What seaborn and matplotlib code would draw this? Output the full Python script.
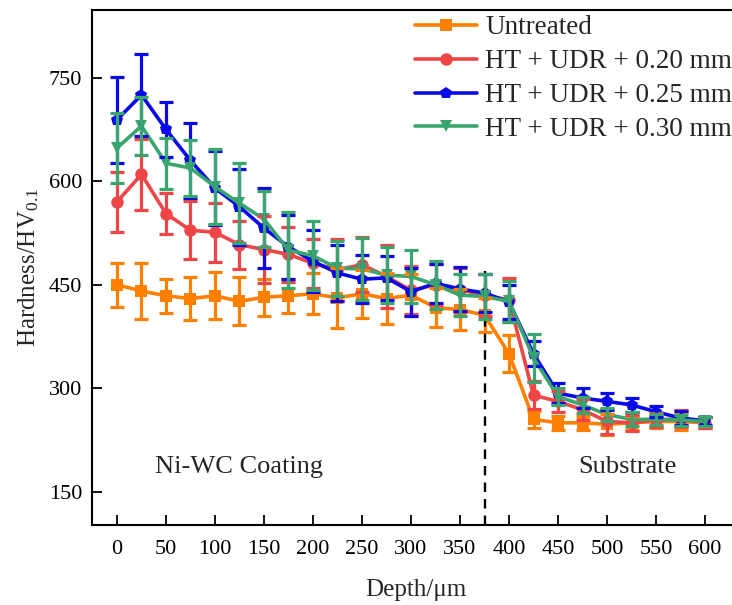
import numpy as np
import pandas as pd
import seaborn as sns
import matplotlib
matplotlib.use("Agg")
import matplotlib.pyplot as plt

depth = list(range(0, 625, 25))

untreated = [450, 441, 434, 430, 434, 426, 432, 434, 437, 431, 437, 430, 435,
             417, 414, 406, 350, 255, 250, 250, 248, 250, 252, 252, 250]
untreated_err = [32, 41, 25, 31, 34, 35, 27, 25, 30, 43, 35, 37, 30,
                 28, 30, 25, 27, 12, 10, 10, 15, 10, 10, 13, 8]

ht020 = [570, 610, 553, 529, 526, 508, 501, 494, 481, 472, 479, 462, 442,
         450, 443, 435, 428, 290, 281, 269, 252, 250, 254, 256, 250]
ht020_err = [44, 51, 30, 42, 43, 35, 48, 40, 35, 45, 40, 45, 35,
             30, 32, 30, 32, 20, 15, 15, 18, 12, 10, 12, 8]

ht025 = [689, 725, 675, 630, 590, 563, 532, 505, 484, 467, 458, 460, 440,
         452, 444, 438, 425, 350, 293, 286, 281, 276, 266, 257, 253]
ht025_err = [62, 59, 40, 55, 54, 55, 58, 46, 45, 40, 35, 32, 35,
             28, 32, 28, 25, 18, 15, 15, 12, 10, 8, 10, 6]

ht030 = [648, 680, 626, 619, 592, 568, 545, 500, 492, 474, 473, 464, 462,
         450, 435, 433, 426, 344, 288, 276, 262, 255, 255, 254, 252]
ht030_err = [51, 42, 37, 41, 54, 58, 41, 55, 50, 40, 45, 40, 38,
             35, 30, 32, 30, 35, 12, 12, 10, 10, 8, 8, 6]

labels = ["Untreated", "HT + UDR + 0.20 mm", "HT + UDR + 0.25 mm", "HT + UDR + 0.30 mm"]
colors = ["#FF8000", "#EE4646", "#0A0AE6", "#3AA66F"]
markers = ["s", "o", "p", "v"]

series = [untreated, ht020, ht025, ht030]
errors = [untreated_err, ht020_err, ht025_err, ht030_err]

df = pd.concat([pd.DataFrame({"Depth": depth, "Hardness": s, "Sample": lab})
                for s, lab in zip(series, labels)], ignore_index=True)

sns.set_theme(style="ticks")
plt.rcParams["font.family"] = ["Liberation Serif", "DejaVu Serif"]
plt.rcParams["mathtext.fontset"] = "custom"
plt.rcParams["mathtext.rm"] = "Liberation Serif"
plt.rcParams["mathtext.it"] = "Liberation Serif:italic"

fig = plt.figure(figsize=(7.32, 6.05), dpi=100)
ax = fig.add_axes([92 / 732, 80 / 605, 648 / 732, 515 / 605])

sns.lineplot(data=df, x="Depth", y="Hardness", hue="Sample", style="Sample",
             palette=dict(zip(labels, colors)), markers=dict(zip(labels, markers)),
             dashes=False, lw=2.6, markersize=9, markeredgewidth=0, ax=ax)

# error bars, one series at a time so the later ones sit on top
for i, (s, e, c) in enumerate(zip(series, errors, colors)):
    ax.errorbar(depth, s, yerr=e, fmt="none", ecolor=c, elinewidth=2.3,
                capsize=4.8, capthick=2.3, zorder=2 + i * 0.1)

# interface between coating and substrate
ax.plot([375, 375], [102, 470], color="black", lw=1.7, ls=(0, (4, 3)))

ax.text(125, 186, "Ni-WC Coating", fontsize=19, ha="center", va="center")
ax.text(521, 186, "Substrate", fontsize=19, ha="center", va="center")

ax.set_xlim(-25.5, 635.7)
ax.set_ylim(102, 848)
ax.set_xticks(range(0, 625, 50))
ax.set_yticks([150, 300, 450, 600, 750])
ax.tick_params(direction="in", length=7, width=1.3, labelsize=16, colors="black")
ax.tick_params(axis="x", pad=11)
ax.tick_params(axis="y", pad=7)
for sp in ax.spines.values():
    sp.set_linewidth(1.5)
    sp.set_color("black")

ax.set_xlabel("Depth/\u03bcm", fontsize=18, labelpad=14)
ax.set_ylabel("Hardness/HV$_{\\mathrm{0.1}}$", fontsize=18, labelpad=6)

handles, labs = ax.get_legend_handles_labels()
ax.legend(handles, labs, loc="upper left", bbox_to_anchor=(415 / 732, 0.975),
          bbox_transform=fig.transFigure, frameon=False, fontsize=19.5,
          handlelength=2.3, handletextpad=0.3, labelspacing=0.33, borderpad=0,
          borderaxespad=0)

fig.savefig("out.png", dpi=100)
